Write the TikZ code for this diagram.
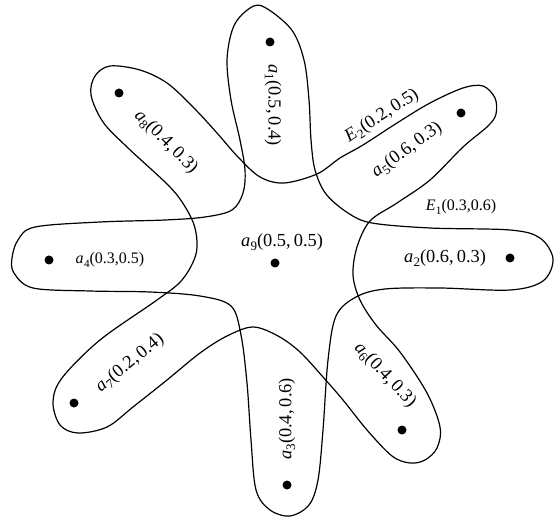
\documentclass[tikz,border=0pt]{standalone}
\usepackage{fontspec}
\setmainfont{Liberation Serif}
% vertex label: italic letter, lowered index, membership pair
\newcommand\mlab[4]{\textit{#1}\kern0.3pt\raisebox{-0.2em}{\fontsize{13}{13}\selectfont #2}(#3,\,#4)}
\newcommand\slab[4]{\textit{#1}\kern0.3pt\raisebox{-0.2em}{\fontsize{11.2}{11.2}\selectfont #2}(#3,#4)}
\begin{document}
\begin{tikzpicture}[x=1pt,y=-1pt,
  vtx/.style={circle,fill,inner sep=0pt,minimum size=9pt},
  big/.style={font=\fontsize{18.4}{20}\selectfont,inner sep=1pt},
  small/.style={font=\fontsize{16}{18}\selectfont,inner sep=1pt},
  hedge/.style={line width=1.2pt,line join=round}]
\useasboundingbox (0,0) rectangle (556,518);

% hyperedge E1: petals a1 (top), a2 (right), a3 (bottom), a4 (left)
\draw[hedge] plot[smooth cycle,tension=0.55] coordinates {
  (262,6) (291,29) (304,60) (309,100) (311,140) (315,170) (326,194)
  (348,213) (372,223) (430,228) (510,230) (540,238) (553,259) (543,281)
  (510,290) (440,288) (385,289) (356,297) (336,316) (328,360) (323,430)
  (318,480) (309,505) (290,516) (270,510) (256,490) (251,440) (247,383)
  (241,335) (231,306) (200,296) (150,292) (90,291) (33,288) (14,273)
  (12,258) (18,240) (35,227) (100,222) (165,220) (205,217) (232,210)
  (243,193) (245,170) (240,140) (231,100) (227,60) (233,28) (246,11)};

% hyperedge E2: petals a5, a6, a7, a8 on the diagonals
\draw[hedge] plot[smooth cycle,tension=0.55] coordinates {
  (483,86) (495,98) (496,114) (488,126) (463,147) (430,180) (397,203)
  (370,221) (357,247) (353,275) (360,300) (376,325) (400,352) (427,393)
  (440,427) (437,448) (425,460) (410,463) (392,456) (367,430) (343,400)
  (323,377) (300,352) (278,336) (253,327) (227,336) (200,353) (167,380)
  (133,407) (107,427) (78,433) (60,425) (53,402) (62,378) (100,340)
  (157,300) (182,280) (196,254) (195,228) (184,205) (168,185) (127,147)
  (103,122) (91,95) (95,76) (110,66) (140,70) (167,83) (193,107)
  (217,133) (238,157) (260,177) (284,183) (317,174) (340,158) (363,145)
  (397,123) (430,103) (463,88)};

% vertices
\node[vtx] (a1) at (270,42) {};
\node[vtx] (a2) at (510,258) {};
\node[vtx] (a3) at (287,485) {};
\node[vtx] (a4) at (49,260) {};
\node[vtx] (a5) at (461,113) {};
\node[vtx] (a6) at (402,430) {};
\node[vtx] (a7) at (74,403) {};
\node[vtx] (a8) at (119,93) {};
\node[vtx] (a9) at (275,263) {};

% labels
\node[big,rotate=-90] (l1) at (273,105) {\mlab{a}{1}{0.5}{0.4}};
\node[big] (l2) at (445,258) {\mlab{a}{2}{0.6}{0.3}};
\node[big,rotate=90] (l3) at (287,419) {\mlab{a}{3}{0.4}{0.6}};
\node[small] (l4) at (110,260) {\slab{a}{4}{0.3}{0.5}};
\node[big,rotate=36] (l5) at (407,150) {\mlab{a}{5}{0.6}{0.3}};
\node[big,rotate=-47] (l6) at (385,375) {\mlab{a}{6}{0.4}{0.3}};
\node[big,rotate=39] (l7) at (130,363) {\mlab{a}{7}{0.2}{0.4}};
\node[big,rotate=-45] (l8) at (166,142) {\mlab{a}{8}{0.4}{0.3}};
\node[big] (l9) at (282,242) {\mlab{a}{9}{0.5}{0.5}};
\node[small] (e1) at (461,207) {\slab{E}{1}{0.3}{0.6}};
\node[big,rotate=33] (e2) at (382,116) {\mlab{E}{2}{0.2}{0.5}};
\end{tikzpicture}
\end{document}
